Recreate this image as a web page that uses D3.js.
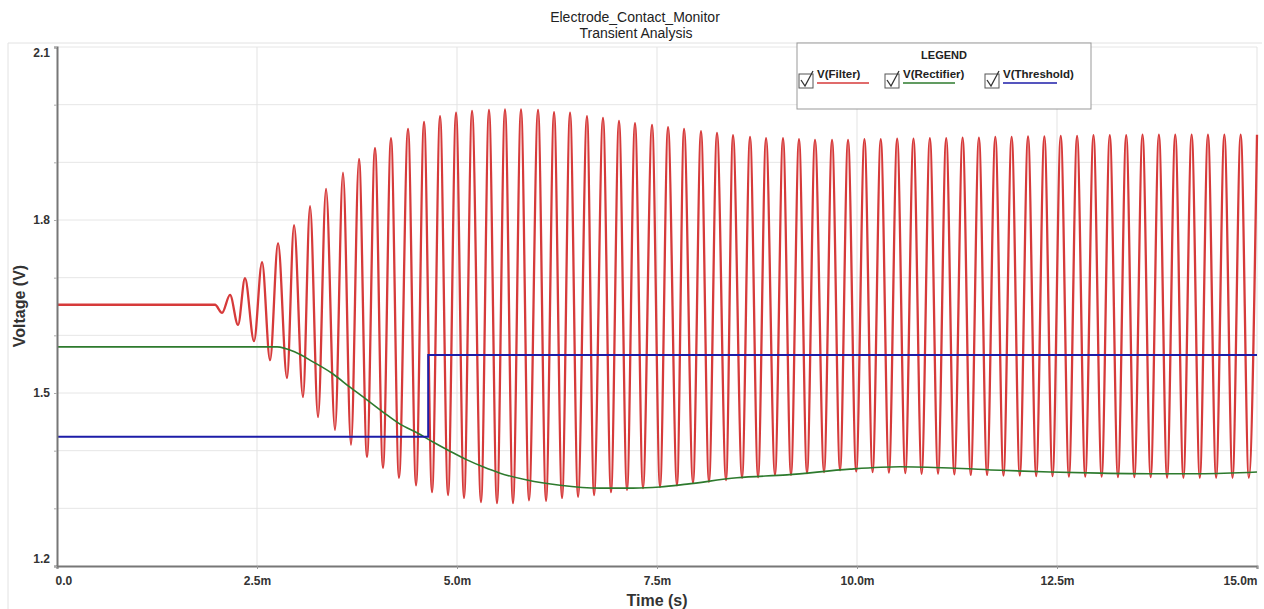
<!DOCTYPE html>
<html>
<head>
<meta charset="utf-8">
<script src="https://cdn.jsdelivr.net/npm/d3@7"></script>
<style>
  body { margin: 0; background: #fff; }
  svg { display: block; font-family: "Liberation Sans", Arial, sans-serif; }
</style>
</head>
<body>
<script>
// Axis ticks (time in ms, voltage in V)
const timeTicks = [0, 2.5, 5, 7.5, 10, 12.5, 15];
const voltTicks = [1.2, 1.5, 1.8, 2.1];
const voltGrid = d3.range(12, 22).map(d => d / 10);

// V(Filter): flat level, then the oscillation peaks / troughs [ms, V]
const filterPts = [
  [0, 1.653], [1.975, 1.653],
  [2.063, 1.639], [2.163, 1.670], [2.263, 1.618], [2.350, 1.699], [2.463, 1.590], [2.563, 1.727],
  [2.663, 1.557], [2.763, 1.760], [2.875, 1.526], [2.963, 1.791], [3.075, 1.493], [3.163, 1.824],
  [3.263, 1.458], [3.363, 1.854], [3.475, 1.436], [3.575, 1.882], [3.675, 1.410], [3.775, 1.906],
  [3.875, 1.389], [3.975, 1.925], [4.075, 1.370], [4.175, 1.942], [4.275, 1.353], [4.388, 1.958],
  [4.488, 1.340], [4.588, 1.970], [4.688, 1.328], [4.788, 1.980], [4.888, 1.323], [4.988, 1.986],
  [5.088, 1.318], [5.188, 1.989], [5.300, 1.311], [5.400, 1.991], [5.500, 1.309], [5.600, 1.992],
  [5.700, 1.309], [5.800, 1.992], [5.900, 1.314], [6.013, 1.991], [6.113, 1.313], [6.213, 1.987],
  [6.313, 1.318], [6.413, 1.986], [6.513, 1.320], [6.625, 1.980], [6.713, 1.323], [6.825, 1.977],
  [6.925, 1.328], [7.025, 1.972], [7.125, 1.332], [7.225, 1.968], [7.325, 1.335], [7.438, 1.965],
  [7.538, 1.337], [7.638, 1.961], [7.750, 1.340], [7.838, 1.958], [7.950, 1.344], [8.050, 1.954],
  [8.150, 1.346], [8.250, 1.951], [8.363, 1.349], [8.450, 1.947], [8.563, 1.353], [8.663, 1.944],
  [8.763, 1.354], [8.863, 1.942], [8.975, 1.358], [9.075, 1.942], [9.175, 1.358], [9.275, 1.940],
  [9.375, 1.361], [9.475, 1.939], [9.588, 1.363], [9.688, 1.939], [9.788, 1.366], [9.888, 1.939],
  [9.990, 1.364], [10.093, 1.940], [10.195, 1.363], [10.297, 1.940], [10.399, 1.362], [10.502, 1.941],
  [10.604, 1.361], [10.706, 1.941], [10.808, 1.360], [10.911, 1.942], [11.013, 1.360], [11.115, 1.942],
  [11.217, 1.359], [11.320, 1.943], [11.422, 1.358], [11.524, 1.943], [11.626, 1.358], [11.729, 1.944],
  [11.831, 1.357], [11.933, 1.944], [12.035, 1.357], [12.138, 1.945], [12.240, 1.356], [12.342, 1.945],
  [12.444, 1.356], [12.547, 1.946], [12.649, 1.355], [12.751, 1.946], [12.853, 1.355], [12.956, 1.947],
  [13.058, 1.355], [13.160, 1.947], [13.262, 1.354], [13.365, 1.947], [13.467, 1.354], [13.569, 1.948],
  [13.671, 1.354], [13.774, 1.948], [13.876, 1.353], [13.978, 1.948], [14.080, 1.353], [14.183, 1.948],
  [14.285, 1.353], [14.387, 1.948], [14.489, 1.353], [14.592, 1.948], [14.694, 1.353], [14.796, 1.948],
  [14.898, 1.353], [15.000, 1.948]
];

// V(Rectifier) [ms, V]
const rectifierPts = [
  [0, 1.580], [2.75, 1.580], [2.975, 1.571], [3.2, 1.554], [3.45, 1.533], [3.663, 1.510],
  [3.875, 1.488], [4.075, 1.467], [4.288, 1.446], [4.5, 1.431], [4.7, 1.415], [4.913, 1.399],
  [5.125, 1.384], [5.325, 1.372], [5.538, 1.361], [5.875, 1.349], [6.288, 1.340], [6.788, 1.335],
  [7.2, 1.335], [7.538, 1.337], [7.875, 1.342], [8.5, 1.353], [9.125, 1.358], [9.913, 1.368],
  [10.538, 1.372], [11.163, 1.370], [11.788, 1.366], [12.413, 1.363], [13.038, 1.361],
  [13.663, 1.360], [14.288, 1.360], [15.0, 1.363]
];

// V(Threshold) [ms, V]
const thresholdPts = [[0, 1.424], [4.64, 1.424], [4.64, 1.566], [15.0, 1.566]];

const legendItems = [
  { name: "V(Filter)", color: "#d63a3a" },
  { name: "V(Rectifier)", color: "#2d7a2d" },
  { name: "V(Threshold)", color: "#1c1ca8" }
];

const svg = d3.select("body").append("svg")
  .attr("width", 1264)
  .attr("height", 609);

const x = d3.scaleLinear().domain([0, 15]).range([57, 1257]);
const y = d3.scaleLinear().domain([1.2, 2.1]).range([566, 47]);

// outer frame of the graph window
svg.append("path")
  .attr("d", "M8,609 V43 H1262")
  .attr("fill", "none")
  .attr("stroke", "#e2e2e2");

// grid
svg.append("g").selectAll("line")
  .data(voltGrid.slice(1))
  .enter().append("line")
  .attr("x1", x(0)).attr("x2", x(15))
  .attr("y1", d => y(d)).attr("y2", d => y(d))
  .attr("stroke", "#e6e6e6");

svg.append("g").selectAll("line")
  .data(timeTicks.slice(1))
  .enter().append("line")
  .attr("x1", d => x(d)).attr("x2", d => x(d))
  .attr("y1", y(2.1)).attr("y2", y(1.2))
  .attr("stroke", "#e3e3e3");

// titles
svg.append("text").attr("x", 635).attr("y", 22).attr("text-anchor", "middle")
  .attr("font-size", 14).attr("fill", "#222").text("Electrode_Contact_Monitor");
svg.append("text").attr("x", 636).attr("y", 38).attr("text-anchor", "middle")
  .attr("font-size", 14).attr("fill", "#222").text("Transient Analysis");

// lines
const line = d3.line().x(d => x(d[0])).y(d => y(d[1]));

svg.append("path")
  .datum(filterPts)
  .attr("d", line.curve(d3.curveMonotoneX))
  .attr("fill", "none")
  .attr("stroke", legendItems[0].color)
  .attr("stroke-width", 2.3);

svg.append("path")
  .datum(rectifierPts)
  .attr("d", line.curve(d3.curveMonotoneX))
  .attr("fill", "none")
  .attr("stroke", legendItems[1].color)
  .attr("stroke-width", 1.6);

svg.append("path")
  .datum(thresholdPts)
  .attr("d", line.curve(d3.curveLinear))
  .attr("fill", "none")
  .attr("stroke", legendItems[2].color)
  .attr("stroke-width", 2);

// axes
const xAxis = svg.append("g")
  .attr("transform", "translate(0,566)")
  .call(d3.axisBottom(x).tickValues(timeTicks).tickSize(3).tickPadding(7)
    .tickFormat(d => d === 0 ? "0.0" : d.toFixed(1) + "m"));
xAxis.select(".domain").attr("stroke", "#777").attr("stroke-width", 2);
xAxis.selectAll(".tick line").attr("stroke", "#999");
xAxis.selectAll("text").attr("font-size", 12).attr("font-weight", "bold").attr("fill", "#333")
  .attr("font-family", "Liberation Sans, Arial, sans-serif");
xAxis.selectAll(".tick text").filter(d => d === 0).attr("text-anchor", "start").attr("dx", -2);
xAxis.selectAll(".tick text").filter(d => d === 15).attr("text-anchor", "end");

const yAxis = svg.append("g")
  .attr("transform", "translate(57,0)")
  .call(d3.axisLeft(y).tickValues(voltGrid).tickSize(3).tickPadding(4)
    .tickFormat(d => voltTicks.includes(d) ? d.toFixed(1) : ""));
yAxis.select(".domain").attr("stroke", "#777").attr("stroke-width", 2);
yAxis.selectAll(".tick line").attr("stroke", "#aaa");
yAxis.selectAll("text").attr("font-size", 12).attr("font-weight", "bold").attr("fill", "#333")
  .attr("font-family", "Liberation Sans, Arial, sans-serif");
yAxis.selectAll(".tick text").filter(d => d === 2.1).attr("dy", "0.75em");
yAxis.selectAll(".tick text").filter(d => d === 1.2).attr("dy", "-0.3em");

// axis titles
svg.append("text").attr("x", 657).attr("y", 606).attr("text-anchor", "middle")
  .attr("font-size", 16).attr("font-weight", "bold").attr("fill", "#333").text("Time (s)");
svg.append("text").attr("transform", "translate(25,306) rotate(-90)").attr("text-anchor", "middle")
  .attr("font-size", 16).attr("font-weight", "bold").attr("fill", "#333").text("Voltage (V)");

// legend
const legend = svg.append("g");
legend.append("rect")
  .attr("x", 797).attr("y", 43).attr("width", 294).attr("height", 66)
  .attr("fill", "#fff").attr("stroke", "#999");
legend.append("text").attr("x", 944).attr("y", 59).attr("text-anchor", "middle")
  .attr("font-size", 11).attr("font-weight", "bold").attr("fill", "#222").text("LEGEND");

const legendX = [799, 885, 985];
const item = legend.selectAll("g.item")
  .data(legendItems)
  .enter().append("g")
  .attr("transform", (d, i) => `translate(${legendX[i]},0)`);
item.append("rect")
  .attr("x", 0).attr("y", 74).attr("width", 14).attr("height", 14)
  .attr("fill", "#fff").attr("stroke", "#555");
item.append("path")
  .attr("d", "M2,80 L6,86 L14,71")
  .attr("fill", "none").attr("stroke", "#333").attr("stroke-width", 1.3);
item.append("text")
  .attr("x", 18).attr("y", 78)
  .attr("font-size", 11.5).attr("font-weight", "bold").attr("fill", "#222")
  .text(d => d.name);
item.append("line")
  .attr("x1", 18).attr("x2", (d, i) => [70, 70, 72][i])
  .attr("y1", 83).attr("y2", 83)
  .attr("stroke", d => d.color).attr("stroke-width", 1.5);
</script>
</body>
</html>
